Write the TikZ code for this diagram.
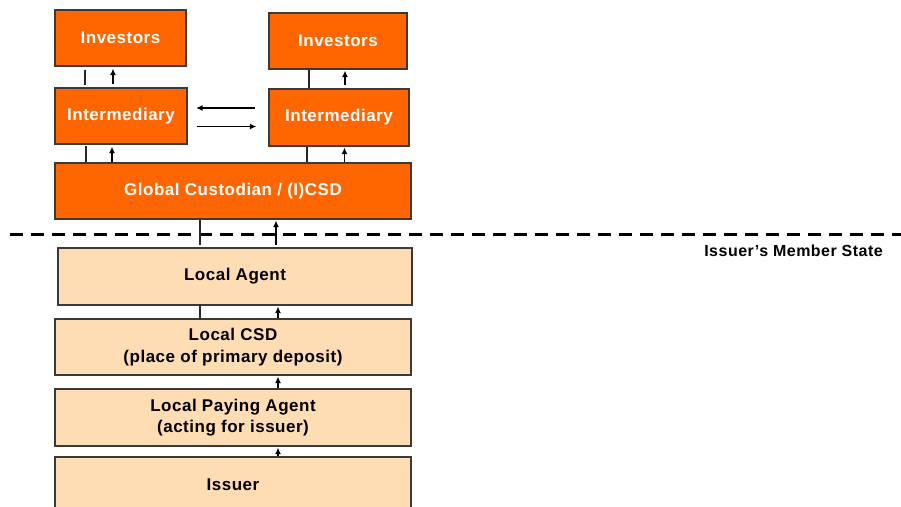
\documentclass[tikz,border=0pt]{standalone}
\usepackage{fontspec}
\setmainfont{Liberation Sans}[LetterSpace=3]
\usetikzlibrary{arrows.meta}
\definecolor{orng}{HTML}{FF6600}
\definecolor{peach}{HTML}{FFDDB4}
\definecolor{edge}{HTML}{3A3A3A}
\begin{document}
\begin{tikzpicture}[x=1pt,y=-1pt,
  box/.style={rectangle,draw=edge,line width=1.2pt,inner sep=0pt,align=center,
    font=\fontsize{17}{21.5}\selectfont\bfseries},
  obox/.style={box,fill=orng,text=white},
  pbox/.style={box,fill=peach,text=black},
  link/.style={draw=black!85,line width=2pt},
  arr/.style={draw=black,line width=1.4pt,-{Latex[length=6.5pt,width=6pt]}}]
\useasboundingbox (0,0) rectangle (901,506);
\clip (0,0) rectangle (901,506);
\fill[white] (0,0) rectangle (901,506);
% boxes
\node[obox,minimum width=131,minimum height=56] (invL) at (120.5,38) {Investors};
\node[obox,minimum width=138,minimum height=56] (invR) at (338,41) {Investors};
\node[obox,minimum width=132,minimum height=56] (intL) at (121,116) {Intermediary};
\node[obox,minimum width=140,minimum height=57] (intR) at (339,117.5) {Intermediary};
\node[obox,minimum width=356,minimum height=56] (glob) at (233,191) {Global Custodian / (I)CSD};
\node[pbox,minimum width=354,minimum height=57] (la) at (235,276.5) {Local Agent};
\node[pbox,minimum width=356,minimum height=56] (lcsd) at (233,347) {Local CSD\\(place of primary deposit)};
\node[pbox,minimum width=356,minimum height=57] (lpa) at (233,417.5) {Local Paying Agent\\(acting for issuer)};
\node[pbox,minimum width=356,minimum height=56] (iss) at (233,485) {Issuer};
% dashed border
\coordinate (dl) at (10,234);
\coordinate (dr) at (905,234);
\draw[line width=3pt,dash pattern=on 13pt off 8pt] (dl) -- (dr);
\node[anchor=east,inner sep=0pt,font=\fontsize{16}{19}\selectfont\bfseries] (ms) at (883,251) {Issuer’s Member State};
% left column links
\draw[link] ([xshift=-35.5,yshift=-3]invL.south) -- ([xshift=-35.5,yshift=2]invL.south |- intL.north);
\draw[arr] ([xshift=-8,yshift=3]intL.north) -- ([xshift=-8,yshift=-2]intL.north |- invL.south);
\draw[link] ([xshift=-35,yshift=-1]intL.south) -- ([xshift=-35]intL.south |- glob.north);
\draw[arr] ([xshift=-9,yshift=0]intL.south |- glob.north) -- ([xshift=-9,yshift=-2]intL.south);
% right column links
\draw[link] ([xshift=-29]invR.south) -- ([xshift=-29]invR.south |- intR.north);
\draw[arr] ([xshift=6,yshift=3]intR.north) -- ([xshift=6,yshift=-1]intR.north |- invR.south);
\draw[link] ([xshift=-32.5]intR.south) -- ([xshift=-32.5]intR.south |- glob.north);
\draw[arr] ([xshift=5.5]intR.south |- glob.north) -- ([xshift=5.5,yshift=-1]intR.south);
% between intermediaries
\draw[arr] ([xshift=-13,yshift=9.5]intR.west) -- ([xshift=8.5,yshift=9.5]intR.west -| intL.east);
\draw[arr] ([xshift=9,yshift=-9]intR.west -| intL.east) -- ([xshift=-12,yshift=-9]intR.west);
% custodian to local agent
\draw[link] ([xshift=-33]glob.south) -- ([xshift=-33,yshift=2]glob.south |- la.north);
\draw[arr] ([xshift=43,yshift=2]glob.south |- la.north) -- ([xshift=43,yshift=-1]glob.south);
% local agent to local CSD
\draw[link] ([xshift=-35]la.south) -- ([xshift=-35]la.south |- lcsd.north);
\draw[arr] ([xshift=43]la.south |- lcsd.north) -- ([xshift=43,yshift=-1]la.south);
% local CSD to paying agent
\draw[arr] ([xshift=45]lcsd.south |- lpa.north) -- ([xshift=45,yshift=-1]lcsd.south);
% paying agent to issuer
\draw[arr] ([xshift=45]lpa.south |- iss.north) -- ([xshift=45,yshift=-1]lpa.south);
\end{tikzpicture}
\end{document}
